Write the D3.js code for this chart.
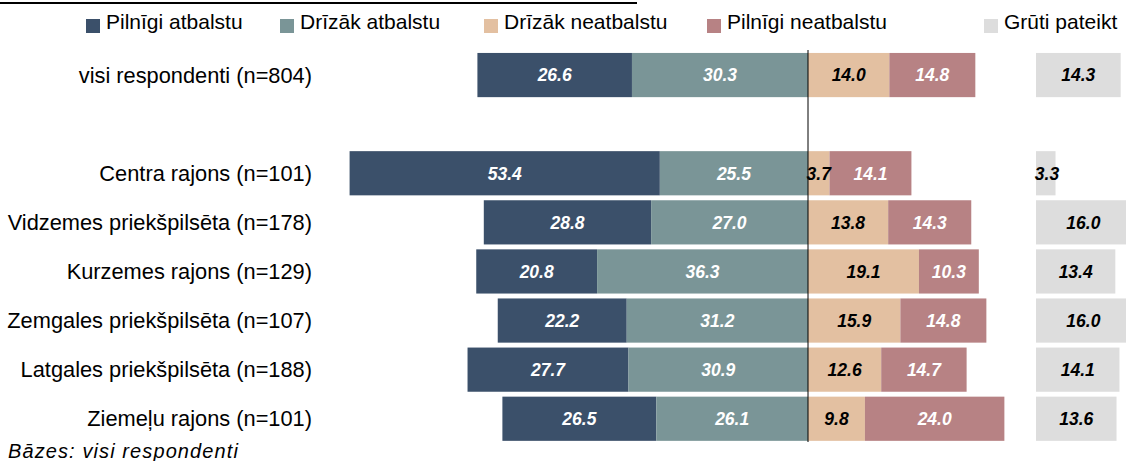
<!DOCTYPE html>
<meta charset="utf-8">
<head>
<title></title>
<script src="https://d3js.org/d3.v7.min.js"></script>
<style>
  body { margin: 0; background: #fff; }
  text { font-family: "Liberation Sans", Arial, sans-serif; }
  .val { font-size: 17.5px; font-weight: bold; font-style: italic; }
</style>
</head>
<body>
<div id="chart"></div>
<script>
// categories (blank entry = empty row between total and districts)
var categories = ["visi respondenti (n=804)", "", "Centra rajons (n=101)", "Vidzemes priekšpilsēta (n=178)",
  "Kurzemes rajons (n=129)", "Zemgales priekšpilsēta (n=107)", "Latgales priekšpilsēta (n=188)", "Ziemeļu rajons (n=101)"];
var rows = categories.filter(function(c) { return c !== ""; });

var seriesNames = ["Pilnīgi atbalstu", "Drīzāk atbalstu", "Drīzāk neatbalstu", "Pilnīgi neatbalstu", "Grūti pateikt"];
var pilnigiAtbalstu   = [26.6, 53.4, 28.8, 20.8, 22.2, 27.7, 26.5];
var drizakAtbalstu    = [30.3, 25.5, 27.0, 36.3, 31.2, 30.9, 26.1];
var drizakNeatbalstu  = [14.0, 3.7, 13.8, 19.1, 15.9, 12.6, 9.8];
var pilnigiNeatbalstu = [14.8, 14.1, 14.3, 10.3, 14.8, 14.7, 24.0];
var grutiPateikt      = [14.3, 3.3, 16.0, 13.4, 16.0, 14.1, 13.6];

var colors = ["#3b506a", "#7a9597", "#e3c0a1", "#b78284", "#dddddd"];
var textColors = ["#fff", "#fff", "#000", "#fff", "#000"];

var W = 1126, H = 461;
var svg = d3.select("#chart").append("svg").attr("width", W).attr("height", H);

// scales
var x = d3.scaleLinear().domain([-80, 35]).range([808 - 80 * 5.81, 808 + 35 * 5.81]);
var xg = d3.scaleLinear().domain([0, 16]).range([1036, 1036 + 16 * 5.92]);
var y = d3.scaleBand().domain(categories).range([50.5, 443.3]).paddingInner(0.1).paddingOuter(0.05);

// build segments
var segs = [];
rows.forEach(function(r, i) {
  var a = pilnigiAtbalstu[i], b = drizakAtbalstu[i], c = drizakNeatbalstu[i], d = pilnigiNeatbalstu[i];
  segs.push({row: r, s: 0, v: a, x0: -(a + b), x1: -b});
  segs.push({row: r, s: 1, v: b, x0: -b, x1: 0});
  segs.push({row: r, s: 2, v: c, x0: 0, x1: c});
  segs.push({row: r, s: 3, v: d, x0: c, x1: c + d});
});

var g = svg.append("g");
g.selectAll("rect.seg").data(segs).enter().append("rect")
  .attr("class", "seg")
  .attr("x", function(d) { return x(d.x0); })
  .attr("width", function(d) { return x(d.x1) - x(d.x0); })
  .attr("y", function(d) { return y(d.row); })
  .attr("height", y.bandwidth())
  .attr("fill", function(d) { return colors[d.s]; });

// grūti pateikt column
g.selectAll("rect.gp").data(rows).enter().append("rect")
  .attr("x", xg(0))
  .attr("width", function(d, i) { return xg(grutiPateikt[i]) - xg(0); })
  .attr("y", function(d) { return y(d); })
  .attr("height", y.bandwidth())
  .attr("fill", colors[4]);

// zero line
svg.append("line")
  .attr("x1", x(0)).attr("x2", x(0))
  .attr("y1", 50).attr("y2", 442)
  .attr("stroke", "#000").attr("stroke-width", 1);

g.selectAll("text.seg").data(segs).enter().append("text")
  .attr("class", "val")
  .attr("x", function(d) { return (x(d.x0) + x(d.x1)) / 2; })
  .attr("y", function(d) { return y(d.row) + y.bandwidth() / 2; })
  .attr("dy", "0.36em")
  .attr("text-anchor", "middle")
  .attr("fill", function(d) { return textColors[d.s]; })
  .text(function(d) { return d3.format(".1f")(d.v); });

g.selectAll("text.gp").data(rows).enter().append("text")
  .attr("class", "val")
  .attr("x", function(d, i) { return Math.max((xg(0) + xg(grutiPateikt[i])) / 2, xg(0) + 11); })
  .attr("y", function(d) { return y(d) + y.bandwidth() / 2; })
  .attr("dy", "0.36em")
  .attr("text-anchor", "middle")
  .attr("fill", "#000")
  .text(function(d, i) { return d3.format(".1f")(grutiPateikt[i]); });

// category labels
svg.selectAll("text.cat").data(rows).enter().append("text")
  .attr("x", 312)
  .attr("y", function(d) { return y(d) + y.bandwidth() / 2; })
  .attr("dy", "0.35em")
  .attr("text-anchor", "end")
  .style("font-size", "21.8px")
  .attr("fill", "#000")
  .text(function(d) { return d; });

// legend
var legendX = [86, 280, 484, 707, 984];
var leg = svg.selectAll("g.leg").data(seriesNames).enter().append("g")
  .attr("transform", function(d, i) { return "translate(" + legendX[i] + ",0)"; });
leg.append("rect").attr("x", 0).attr("y", 19).attr("width", 14).attr("height", 14)
  .attr("fill", function(d, i) { return colors[i]; });
leg.append("text").attr("x", 20).attr("y", 29)
  .style("font-size", "21px").attr("fill", "#000")
  .text(function(d) { return d; });

// top rule (cut title above)
svg.append("line").attr("x1", 0).attr("x2", 637).attr("y1", 3).attr("y2", 3)
  .attr("stroke", "#000").attr("stroke-width", 2);

// footnote
svg.append("text").attr("x", 8).attr("y", 458)
  .style("font-size", "20px").style("font-style", "italic")
  .style("letter-spacing", "1.1px")
  .text("Bāzes: visi respondenti");
</script>
</body>
</html>
